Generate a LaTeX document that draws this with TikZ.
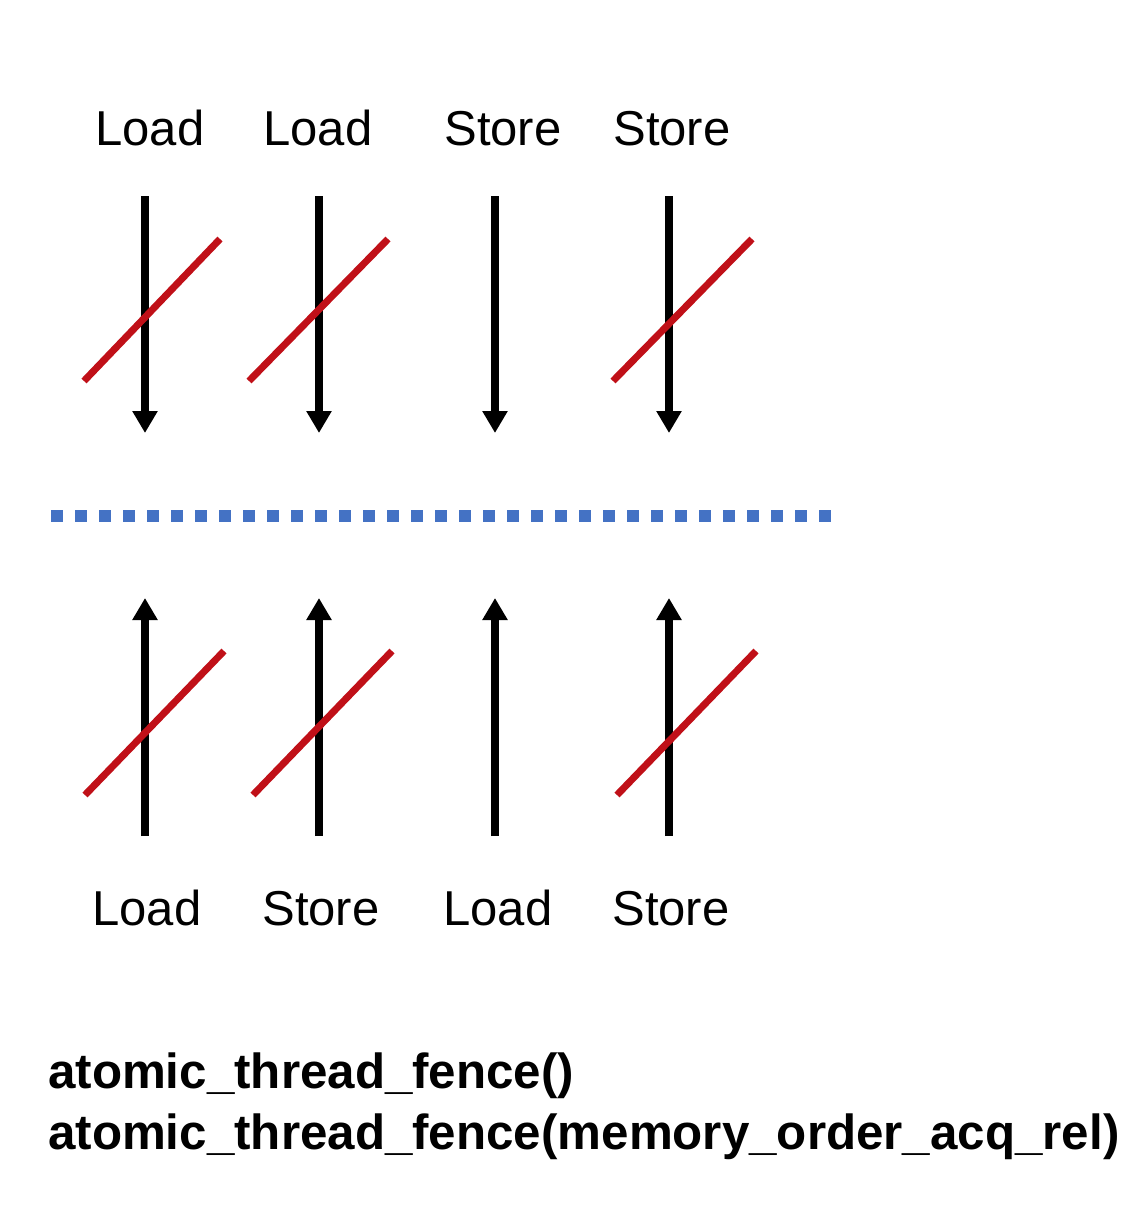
\documentclass[tikz,border=0pt]{standalone}
\usepackage{fontspec}
\setmainfont{Liberation Sans}
\usetikzlibrary{arrows.meta}
\definecolor{fred}{RGB}{192,16,24}
\definecolor{fblue}{RGB}{68,114,196}
\tikzset{
  lbl/.style={anchor=base, inner sep=0pt, font=\fontsize{49}{49}\selectfont},
  code/.style={anchor=base west, inner sep=0pt, font=\fontsize{49.3}{50}\selectfont\bfseries},
  reorder/.style={line width=8pt, -{Triangle[width=24pt,length=22pt]}},
  block/.style={line width=7pt, draw=fred},
  fence/.style={line width=12pt, draw=fblue, dash pattern=on 12pt off 12pt}
}
\begin{document}
\begin{tikzpicture}[x=1pt,y=-1pt]
\useasboundingbox (0,0) rectangle (1140,1210);
% top labels
\node[lbl] (t1) at (150,145) {Load};
\node[lbl] (t2) at (318,145) {Load};
\node[lbl] (t3) at (503,145) {Store};
\node[lbl] (t4) at (672,145) {Store};
% bottom labels
\node[lbl] (b1) at (147,925) {Load};
\node[lbl] (b2) at (321,925) {Store};
\node[lbl] (b3) at (498,925) {Load};
\node[lbl] (b4) at (671,925) {Store};
% arrows
\foreach \i/\x in {1/145,2/319,3/495,4/669}{
  \coordinate (ts\i) at (\x,196);
  \coordinate (te\i) at (\x,433);
  \coordinate (bs\i) at (\x,836);
  \coordinate (be\i) at (\x,598);
}
\foreach \i in {1,2,3,4}{
  \draw[reorder] (ts\i) -- (te\i);
  \draw[reorder] (bs\i) -- (be\i);
}
% red strike lines (top)
\coordinate (ra1) at (84,381);  \coordinate (rb1) at (220,239);
\coordinate (ra2) at (249,381); \coordinate (rb2) at (388,239);
\coordinate (ra4) at (613,381); \coordinate (rb4) at (752,239);
% red strike lines (bottom)
\coordinate (sa1) at (85,795);  \coordinate (sb1) at (224,651);
\coordinate (sa2) at (253,795); \coordinate (sb2) at (392,651);
\coordinate (sa4) at (617,795); \coordinate (sb4) at (756,651);
\foreach \i in {1,2,4}{
  \draw[block] (ra\i) -- (rb\i);
  \draw[block] (sa\i) -- (sb\i);
}
% fence
\coordinate (fl) at (51,516);
\coordinate (fr) at (831,516);
\draw[fence] (fl) -- (fr);
% code text
\node[code] (c1) at (48,1088) {atomic\_thread\_fence()};
\node[code] (c2) at (48,1149) {atomic\_thread\_fence(memory\_order\_acq\_rel)};
\end{tikzpicture}
\end{document}
